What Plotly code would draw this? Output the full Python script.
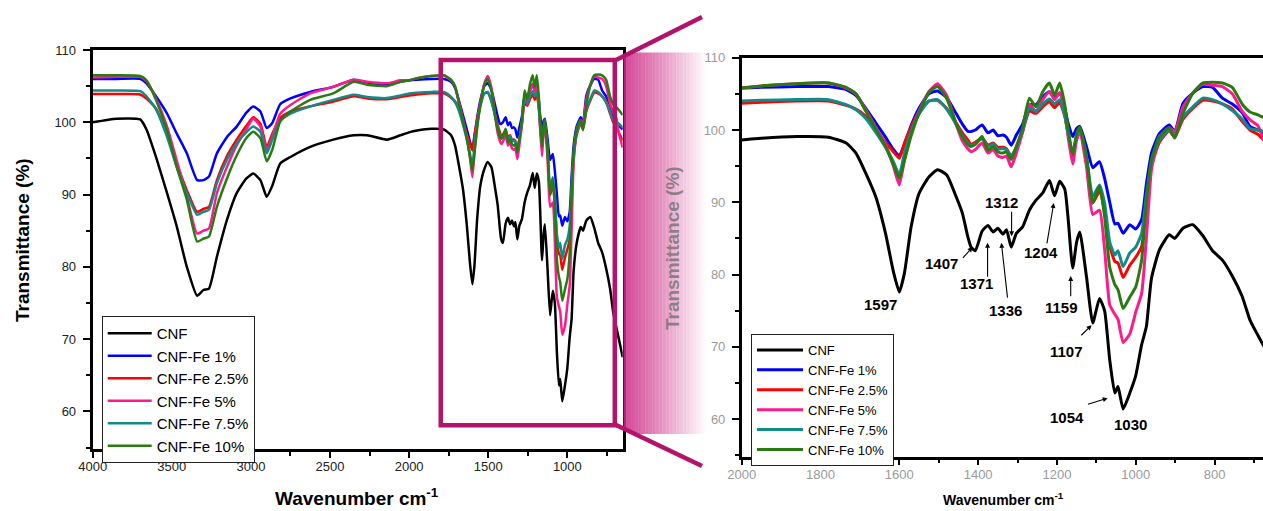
import plotly.graph_objects as go

# ---- FTIR data: wavenumber (cm-1) and transmittance (%) ----
wavenumber = [4000, 3850, 3700, 3660, 3600, 3530, 3470, 3405, 3340, 3300,
              3265, 3215, 3150, 3090, 3030, 2985, 2940, 2900, 2865, 2815,
              2750, 2625, 2480, 2350, 2265, 2140, 2055, 2000, 1950, 1860,
              1780, 1735, 1710, 1685, 1660, 1635, 1615, 1600, 1587, 1570,
              1550, 1525, 1503, 1480, 1456, 1440, 1426, 1418, 1407, 1390,
              1375, 1362, 1350, 1337, 1328, 1316, 1303, 1287, 1270, 1253,
              1236, 1219, 1206, 1193, 1180, 1172, 1160, 1150, 1142, 1125,
              1109, 1092, 1079, 1066, 1053, 1045, 1032, 1015, 1000, 985,
              973, 960, 940, 915, 901, 880, 855, 830, 805, 780,
              755, 730, 710, 690, 675, 650]

cnf = [100.0, 100.5, 100.4, 99.0, 95.2, 90.2, 85.7, 80.0, 76.0, 76.8,
       77.0, 81.4, 86.6, 90.2, 92.2, 92.9, 92.0, 89.7, 91.2, 94.3,
       95.2, 96.6, 97.6, 98.2, 98.2, 97.6, 98.2, 98.6, 98.85, 99.1,
       99.0, 98.2, 96.8, 94.0, 90.8, 85.7, 80.4, 77.6, 80.2, 86.6,
       91.2, 93.5, 94.5, 93.8, 90.8, 88.5, 85.2, 83.8, 83.3, 86.0,
       86.8, 85.9, 86.4, 85.6, 86.2, 83.8, 85.7, 86.6, 88.9, 90.3,
       91.3, 93.0, 90.9, 92.9, 91.8, 88.0, 80.9, 84.5, 85.9, 79.7,
       73.3, 76.7, 75.0, 68.2, 63.6, 64.5, 61.4, 63.6, 66.0, 70.3,
       72.8, 79.5, 83.4, 85.5, 85.0, 86.4, 86.9, 85.4, 83.3, 82.0,
       79.8, 77.0, 73.7, 71.6, 70.1, 67.5]

fe_1 = [106.0, 106.0, 106.0, 105.4, 103.6, 101.2, 98.5, 95.7, 92.0, 92.0,
        92.5, 95.7, 98.0, 99.4, 101.3, 102.2, 101.5, 99.2, 99.9, 102.5,
        103.3, 104.2, 104.9, 105.9, 105.5, 105.3, 105.6, 105.8, 105.9, 106.0,
        106.0, 105.6, 104.8, 103.0, 101.0, 99.0, 97.3, 96.4, 98.0, 100.6,
        103.0, 105.0, 105.4, 104.5, 102.3, 100.8, 99.8, 99.8, 100.0, 100.7,
        99.6, 100.0, 99.2, 99.3, 99.0, 97.9, 99.3, 100.8, 103.5, 103.5,
        104.6, 105.3, 104.4, 105.1, 103.0, 101.0, 99.1, 100.2, 100.5, 97.7,
        94.8, 95.6, 93.3, 90.0, 87.0, 87.1, 85.7, 86.9, 86.3, 87.6,
        92.5, 96.8, 99.5, 100.7, 99.8, 103.7, 105.1, 106.0, 105.9, 104.4,
        103.6, 102.4, 100.5, 100.0, 99.6, 99.0]

fe_2_5 = [103.9, 103.9, 103.85, 103.3, 101.9, 98.5, 94.4, 90.6, 87.6, 88.0,
          88.3, 92.0, 95.4, 97.6, 99.5, 100.7, 99.8, 96.6, 98.4, 100.6,
          101.5, 102.2, 102.85, 103.6, 103.3, 103.2, 103.5, 103.7, 103.85, 104.0,
          104.0, 103.4, 102.9, 101.9, 100.0, 98.3, 97.0, 96.1, 98.2, 100.4,
          102.5, 104.0, 104.1, 103.0, 101.0, 99.6, 98.6, 98.0, 98.3, 98.9,
          97.9, 98.2, 97.6, 97.6, 97.4, 96.4, 97.6, 99.8, 102.6, 102.3,
          103.2, 103.9, 103.1, 103.8, 101.9, 99.6, 96.6, 99.0, 99.9, 96.0,
          89.9, 91.5, 88.9, 84.0, 81.8, 81.6, 79.6, 81.3, 82.4, 83.9,
          90.0, 95.0, 98.3, 99.9, 99.0, 101.5, 103.0, 104.1, 104.0, 103.6,
          102.9, 101.2, 100.0, 99.4, 98.6, 97.5]

fe_5 = [106.2, 106.3, 106.3, 105.7, 103.3, 99.4, 94.8, 89.7, 84.6, 85.0,
        85.3, 90.2, 93.9, 96.8, 99.0, 100.5, 99.4, 96.2, 98.0, 101.2,
        102.4, 104.0, 104.9, 105.9, 105.6, 105.4, 105.8, 105.8, 106.1, 106.4,
        106.5, 105.8, 105.0, 102.8, 100.4, 98.0, 95.0, 92.4, 95.8, 99.5,
        102.6, 105.3, 106.4, 104.8, 100.8, 98.5, 97.4, 97.0, 97.3, 98.2,
        96.8, 97.3, 96.4, 96.2, 96.4, 94.9, 96.8, 99.7, 103.6, 102.5,
        104.2, 105.3, 104.2, 105.2, 102.4, 99.2, 95.3, 98.6, 99.6, 94.9,
        88.3, 88.9, 83.5, 75.8, 74.5, 73.8, 70.6, 71.8, 74.8, 77.4,
        85.0, 94.5, 99.1, 100.3, 99.8, 103.2, 105.1, 106.3, 106.2, 106.0,
        105.0, 102.6, 101.4, 100.6, 98.6, 96.5]

fe_7_5 = [104.4, 104.4, 104.3, 103.6, 101.8, 98.0, 93.9, 90.2, 87.2, 87.6,
          87.9, 91.6, 94.9, 97.1, 98.6, 99.4, 98.7, 95.7, 97.6, 100.2,
          101.2, 102.2, 103.1, 103.8, 103.5, 103.35, 103.7, 104.0, 104.1, 104.2,
          104.2, 103.5, 102.8, 101.6, 99.7, 97.6, 95.6, 93.8, 96.8, 99.8,
          102.2, 104.0, 104.2, 102.9, 100.8, 99.2, 98.2, 97.9, 98.1, 98.8,
          97.7, 98.1, 97.4, 97.4, 97.3, 96.3, 97.6, 100.0, 103.0, 102.6,
          103.6, 104.3, 103.6, 104.2, 102.0, 99.6, 96.8, 99.2, 100.2, 96.3,
          90.8, 92.4, 89.9, 84.5, 82.7, 83.3, 81.1, 83.0, 83.8, 85.7,
          91.0, 95.6, 98.6, 100.0, 99.2, 101.8, 103.2, 104.4, 104.2, 103.6,
          102.7, 101.5, 100.2, 100.0, 99.8, 99.3]

fe_10 = [106.5, 106.5, 106.4, 105.8, 103.1, 98.9, 93.9, 89.3, 83.5, 83.9,
         84.2, 88.3, 92.3, 95.4, 97.8, 98.7, 97.8, 94.6, 96.2, 100.1,
         101.5, 103.1, 104.0, 105.6, 105.2, 105.0, 105.6, 105.8, 106.1, 106.4,
         106.5, 105.9, 105.0, 102.6, 100.2, 97.7, 95.2, 93.3, 95.8, 99.2,
         102.3, 105.2, 106.0, 104.4, 100.9, 99.0, 98.0, 97.7, 98.0, 99.1,
         97.2, 97.7, 97.0, 96.8, 97.0, 95.9, 97.7, 100.3, 104.4, 103.2,
         105.3, 106.5, 104.8, 106.5, 103.5, 100.3, 96.6, 99.5, 100.4, 96.3,
         89.9, 92.2, 88.0, 81.0, 78.6, 77.9, 75.3, 76.9, 78.3, 82.0,
         90.0, 95.9, 99.1, 100.3, 98.9, 102.3, 105.1, 106.5, 106.6, 106.5,
         105.9, 103.6, 102.5, 102.1, 101.7, 101.0]

series_names = ["CNF", "CNF-Fe 1%", "CNF-Fe 2.5%", "CNF-Fe 5%", "CNF-Fe 7.5%", "CNF-Fe 10%"]
series_values = [cnf, fe_1, fe_2_5, fe_5, fe_7_5, fe_10]
series_colors = ["#000000", "#0000ff", "#ff0000", "#ff1a8c", "#138a8a", "#2a7a12"]

# peak labels on the zoomed panel: (text, label wn, label T)
peak_labels = [("1597", 1648, 75.8), ("1407", 1493, 81.5), ("1371", 1404, 78.7),
               ("1336", 1330, 75.0), ("1312", 1341, 89.9), ("1204", 1241, 83.0),
               ("1159", 1188, 75.5), ("1107", 1175, 69.4), ("1054", 1175, 60.2),
               ("1030", 1013, 59.2)]
# leader arrows: (tail wn, tail T, tip wn, tip T)
peak_arrows = [(1442, 82.1, 1414, 83.8), (1376, 79.5, 1376, 84.4),
               (1325, 76.6, 1341, 84.4), (1315, 88.9, 1315, 85.3),
               (1226, 84.1, 1208, 89.9), (1165, 76.8, 1165, 79.8),
               (1142, 71.4, 1112, 73.0), (1125, 62.0, 1071, 62.9)]

W, H = 1263, 511
FONT = "Arial, Liberation Sans, sans-serif"
MAGENTA = "#b3136b"


def px(x):
    return x / W


def py(y):
    return 1 - y / H


fig = go.Figure()

for name, vals, col in zip(series_names, series_values, series_colors):
    fig.add_trace(go.Scatter(x=wavenumber, y=vals, name=name, mode="lines",
                             line=dict(color=col, width=2.5, shape="spline", smoothing=0.5),
                             xaxis="x", yaxis="y", legend="legend"))
for name, vals, col in zip(series_names, series_values, series_colors):
    fig.add_trace(go.Scatter(x=wavenumber, y=vals, name=name, mode="lines",
                             line=dict(color=col, width=3, shape="spline", smoothing=0.5),
                             xaxis="x2", yaxis="y2", legend="legend2"))

axis_common = dict(showgrid=False, zeroline=False, showline=True, automargin=False,
                   linecolor="black", ticks="outside", tickcolor="black")

fig.update_layout(
    width=W, height=H, margin=dict(l=0, r=0, t=0, b=0, pad=0, autoexpand=False),
    paper_bgcolor="white", plot_bgcolor="white",
    font=dict(family=FONT, color="black"),
    xaxis=dict(domain=[px(92.7), px(622.7)], range=[4000, 650], anchor="y",
               dtick=500, tick0=0, ticklen=6, tickwidth=2, linewidth=3, mirror=True,
               tickfont=dict(size=13, color="#222"), ticklabelstandoff=-3,
               minor=dict(dtick=250, ticklen=4, tickwidth=1.5, ticks="outside",
                          tickcolor="black"),
               **axis_common),
    yaxis=dict(domain=[py(449), py(50)], range=[54.8, 110], anchor="x",
               dtick=10, tick0=0, ticklen=7, tickwidth=2, linewidth=3, mirror=True,
               tickfont=dict(size=13, color="#222"), ticklabelstandoff=4,
               minor=dict(dtick=5, ticklen=4, tickwidth=1.5, ticks="outside",
                          tickcolor="black"),
               **axis_common),
    xaxis2=dict(domain=[px(741.7), 1.0], range=[2000, 677], anchor="y2",
                dtick=200, tick0=0, ticklen=6, tickwidth=2, linewidth=2.5, mirror=True,
                tickfont=dict(size=13, color="#9a9a9a"), ticklabelstandoff=-2,
                minor=dict(dtick=100, ticklen=4, tickwidth=1.5, ticks="outside",
                           tickcolor="black"),
                **axis_common),
    yaxis2=dict(domain=[py(456.7), py(57.7)], range=[54.8, 110], anchor="x2",
                dtick=10, tick0=0, ticklen=7, tickwidth=2, linewidth=2.5,
                tickfont=dict(size=13, color="#9a9a9a"), ticklabelstandoff=4,
                minor=dict(dtick=5, ticklen=4, tickwidth=1.5, ticks="outside",
                           tickcolor="black"),
                **axis_common),
    legend=dict(x=px(101.7), y=py(316), xanchor="left", yanchor="top",
                bgcolor="white", bordercolor="#222", borderwidth=1,
                font=dict(size=15, family=FONT, color="black"),
                itemwidth=44, tracegroupgap=0),
    legend2=dict(x=px(751), y=py(334), xanchor="left", yanchor="top",
                 bgcolor="white", bordercolor="#222", borderwidth=1,
                 font=dict(size=13, family=FONT, color="black"),
                 itemwidth=46, tracegroupgap=0),
)

shapes = []
# fading magenta band linking the two panels
x_start, x_end, n_strips = 623.5, 708.0, 60
step = (x_end - x_start) / n_strips
for i in range(n_strips):
    xa = x_start + i * step
    xb = xa + step + 0.4
    xm = xa + step / 2
    top = max(60 - (xm - 615) * 43 / 90, 52.5)
    bot = min(425 + (xm - 615) * 42 / 90, 434)
    t = i / (n_strips - 1)
    alpha = 0.85 * (1 - t) ** 1.15
    shapes.append(dict(type="rect", xref="paper", yref="paper",
                       x0=px(xa), x1=px(xb), y0=py(bot), y1=py(top),
                       line=dict(width=0),
                       fillcolor=f"rgba(205,45,135,{alpha:.3f})", layer="above"))

# zoom rectangle drawn on the full-range panel
shapes.append(dict(type="rect", xref="x", yref="y", x0=1800, x1=700, y0=58.1, y1=108.6,
                   line=dict(color=MAGENTA, width=4.5), layer="above"))
# connector lines
shapes.append(dict(type="line", xref="paper", yref="paper",
                   x0=px(614), y0=py(61), x1=px(702), y1=py(17),
                   line=dict(color=MAGENTA, width=4.5), layer="above"))
shapes.append(dict(type="line", xref="paper", yref="paper",
                   x0=px(614), y0=py(424), x1=px(702), y1=py(466),
                   line=dict(color=MAGENTA, width=4.5), layer="above"))
fig.update_layout(shapes=shapes)

centered = dict(xref="paper", yref="paper", showarrow=False, xanchor="center", yanchor="middle")
annotations = [
    dict(text="Transmittance (%)", x=px(22), y=py(240), textangle=-90,
         font=dict(size=19, color="black", family=FONT, weight="bold"), **centered),
    dict(text="Wavenumber cm<sup>-1</sup>", x=px(357), y=py(497),
         font=dict(size=19, color="black", family=FONT, weight="bold"), **centered),
    dict(text="Transmittance (%)", x=px(672), y=py(248), textangle=-90,
         font=dict(size=19, color="rgba(105,105,105,0.72)", family=FONT, weight="bold"),
         **centered),
    dict(text="Wavenumber cm<sup>-1</sup>", x=px(1003), y=py(499),
         font=dict(size=14, color="black", family=FONT, weight="bold"), **centered),
]
for txt, lx, ly in peak_labels:
    annotations.append(dict(text=txt, x=lx, y=ly, xref="x2", yref="y2", showarrow=False,
                            xanchor="center", yanchor="middle",
                            font=dict(size=15, color="black", family=FONT, weight="bold")))
for tx, ty, hx, hy in peak_arrows:
    annotations.append(dict(text="", x=hx, y=hy, ax=tx, ay=ty, xref="x2", yref="y2",
                            axref="x2", ayref="y2", showarrow=True, arrowhead=2,
                            arrowsize=0.9, arrowwidth=1.1, arrowcolor="black", standoff=0))
fig.update_layout(annotations=annotations)

# the page body should not add its default margin around the figure
fig.write_html("out.html", post_script="document.body.style.margin='0';")
